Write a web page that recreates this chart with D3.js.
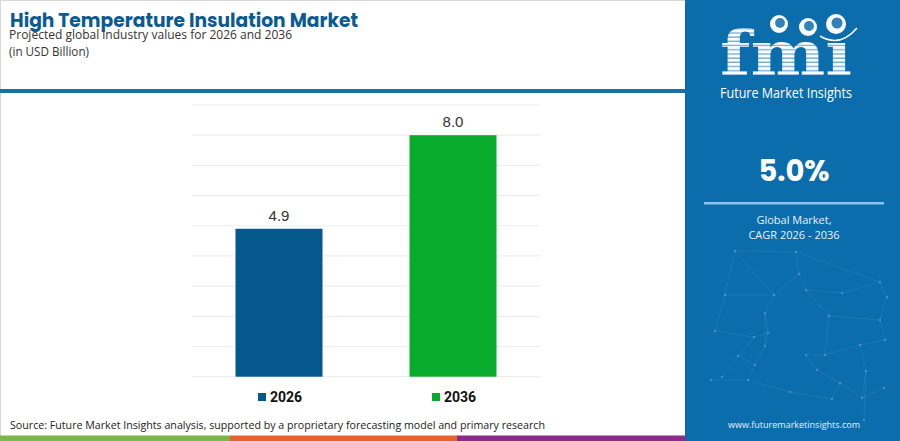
<!DOCTYPE html>
<html>
<head>
<meta charset="utf-8">
<script src="https://cdn.jsdelivr.net/npm/d3@7/dist/d3.min.js"></script>
<style>
html,body{margin:0;padding:0;background:#fff;}
svg{display:block;}
</style>
</head>
<body>
<svg id="chart" width="900" height="441"></svg>
<script>
// ---- data ----
const categories = ["2026", "2036"];
const values = [4.9, 8.0];
const valueLabels = ["4.9", "8.0"];
const yTicks = [0, 1, 2, 3, 4, 5, 6, 7, 8, 9];
const barColors = ["#04588c", "#08ab2c"];
const titleText = "High Temperature Insulation Market";
const subtitleText = "Projected global industry values for 2026 and 2036";
const unitText = "(in USD Billion)";
const sourceText = "Source: Future Market Insights analysis, supported by a proprietary forecasting model and primary research";
const cagrText = "5.0%";
const cagrLabel = ["Global Market,", "CAGR 2026 - 2036"];
const siteText = "www.futuremarketinsights.com";

const svg = d3.select("#chart");
const W = 900, H = 441;

// background + border
svg.append("rect").attr("x",0.5).attr("y",0.5).attr("width",W-1).attr("height",H-1)
  .attr("fill","#fff").attr("stroke","#d6d6d6");

// title block
svg.append("text").attr("x",10).attr("y",27)
  .attr("font-family","Poppins, 'Open Sans', sans-serif").attr("font-weight",700)
  .attr("font-size",19.5).attr("textLength",348).attr("lengthAdjust","spacingAndGlyphs")
  .attr("fill","#0b5a92").text(titleText);
svg.append("text").attr("x",9).attr("y",38.5)
  .attr("font-family","'Open Sans', sans-serif").attr("font-size",12.8)
  .attr("textLength",283).attr("lengthAdjust","spacingAndGlyphs")
  .attr("fill","#333").text(subtitleText);
svg.append("text").attr("x",9).attr("y",56)
  .attr("font-family","'Open Sans', sans-serif").attr("font-size",12.8)
  .attr("textLength",80).attr("lengthAdjust","spacingAndGlyphs")
  .attr("fill","#333").text(unitText);

// blue separator
svg.append("rect").attr("x",0).attr("y",89).attr("width",686).attr("height",4).attr("fill","#1a6faa");

// scales
const x = d3.scaleBand().domain(categories).range([192, 540]).paddingInner(0.5).paddingOuter(0.25);
const y = d3.scaleLinear().domain([0, 9]).range([376.7, 105]);

// gridlines
svg.append("g").selectAll("line").data(yTicks).join("line")
  .attr("x1",192).attr("x2",540)
  .attr("y1",d=>y(d)).attr("y2",d=>y(d))
  .attr("stroke","#eeeeee").attr("stroke-width",1.2);

// bars
svg.append("g").selectAll("rect").data(categories).join("rect")
  .attr("x",d=>x(d)).attr("width",x.bandwidth())
  .attr("y",(d,i)=>y(values[i])).attr("height",(d,i)=>y(0)-y(values[i]))
  .attr("fill",(d,i)=>barColors[i]);

// value labels
svg.append("g").selectAll("text").data(categories).join("text")
  .attr("x",d=>x(d)+x.bandwidth()/2).attr("y",(d,i)=>y(values[i])-8)
  .attr("text-anchor","middle").attr("font-family","'Liberation Sans', Arial, sans-serif")
  .attr("font-size",15).attr("fill","#333").text((d,i)=>valueLabels[i]);

// legend
const lg = svg.append("g").selectAll("g").data(categories).join("g")
  .attr("transform",d=>`translate(${x(d)+x.bandwidth()/2-21},0)`);
lg.append("rect").attr("x",0).attr("y",393).attr("width",8).attr("height",8).attr("fill",(d,i)=>barColors[i]);
lg.append("text").attr("x",12).attr("y",401.5).attr("font-family","Roboto, 'Open Sans', sans-serif")
  .attr("font-weight",700).attr("font-size",14).attr("fill","#111").text(d=>d);

// source
svg.append("text").attr("x",10).attr("y",429)
  .attr("font-family","'Open Sans', sans-serif").attr("font-size",11.4)
  .attr("textLength",535).attr("lengthAdjust","spacingAndGlyphs")
  .attr("fill","#222").text(sourceText);

// bottom colour strip
const strip = [["#7ab648",0,230],["#e8622c",230,457],["#8b2c8c",457,686]];
svg.append("g").selectAll("rect").data(strip).join("rect")
  .attr("x",d=>d[1]).attr("width",d=>d[2]-d[1]).attr("y",435.5).attr("height",5.5).attr("fill",d=>d[0]);

// ---- right panel ----
const P = svg.append("g");
P.append("rect").attr("x",685).attr("y",0).attr("width",215).attr("height",H).attr("fill","#0b6dab");

// decorative network
const nodes = [[735,251],[796,252],[799,274],[774,295],[725,295],[765,313],[806,290],[842,293],[880,282],[887,297],[829,316],[768,333],[754,337],[715,331],[738,356],[722,377],[755,365],[765,346],[825,355],[880,320],[885,340],[860,345],[806,355],[817,370],[840,383],[832,399],[748,380],[711,380],[790,392],[862,398],[884,388],[866,371],[864,420]];
const edges = [[0,1],[1,2],[2,3],[3,4],[4,0],[2,6],[6,7],[7,8],[8,9],[1,8],[6,10],[3,5],[5,11],[11,12],[12,13],[13,4],[12,14],[14,15],[14,16],[16,17],[17,11],[10,18],[18,22],[22,23],[23,24],[24,25],[16,26],[26,27],[26,28],[28,25],[10,19],[19,20],[20,21],[21,18],[21,31],[31,29],[29,30],[24,29],[31,32],[9,19],[5,17],[0,3]];
P.append("g").selectAll("line").data(edges).join("line")
  .attr("x1",d=>nodes[d[0]][0]).attr("y1",d=>nodes[d[0]][1])
  .attr("x2",d=>nodes[d[1]][0]).attr("y2",d=>nodes[d[1]][1])
  .attr("stroke","#8cc4ea").attr("stroke-opacity",0.16).attr("stroke-width",0.8);
P.append("g").selectAll("circle").data(nodes).join("circle")
  .attr("cx",d=>d[0]).attr("cy",d=>d[1]).attr("r",1.2)
  .attr("fill","#b9dcf3").attr("fill-opacity",0.3);

// logo
const defs = svg.append("defs");
const pat = defs.append("pattern").attr("id","stripes").attr("patternUnits","userSpaceOnUse")
  .attr("width",10).attr("height",4.2);
pat.append("rect").attr("width",10).attr("height",4.2).attr("fill","#ffffff");
pat.append("rect").attr("y",2.9).attr("width",10).attr("height",1.3).attr("fill","#6fa9d3");
P.append("text").attr("x",786).attr("y",75).attr("text-anchor","middle")
  .attr("font-family","'DejaVu Serif', serif").attr("font-weight",700)
  .attr("font-size",62).attr("textLength",132).attr("lengthAdjust","spacingAndGlyphs")
  .attr("fill","url(#stripes)").text("fmı");
const globes = [[779,24,9],[808,27,9],[836,24,10]];
P.append("g").selectAll("circle").data(globes).join("circle")
  .attr("cx",d=>d[0]).attr("cy",d=>d[1]).attr("r",d=>d[2]).attr("fill","#fff");
P.append("g").selectAll("circle").data(globes).join("circle")
  .attr("cx",d=>d[0]+1).attr("cy",d=>d[1]-1).attr("r",d=>d[2]*0.55).attr("fill","#0b6dab").attr("fill-opacity",0.85);
P.append("path").attr("d","M820,36 Q840,48 857,28").attr("fill","none").attr("stroke","#fff").attr("stroke-width",1.6);
P.append("text").attr("x",786).attr("y",98).attr("text-anchor","middle")
  .attr("font-family","'Open Sans', sans-serif").attr("font-size",14).attr("fill","#fff")
  .attr("textLength",132).attr("lengthAdjust","spacingAndGlyphs").text("Future Market Insights");

// CAGR
P.append("text").attr("x",794).attr("y",181).attr("text-anchor","middle")
  .attr("font-family","Poppins, 'Open Sans', sans-serif").attr("font-weight",700)
  .attr("font-size",29).attr("fill","#fff").text(cagrText);
P.append("rect").attr("x",704).attr("y",202).attr("width",180).attr("height",2.5).attr("fill","#8ec5ea");
P.append("g").selectAll("text").data(cagrLabel).join("text")
  .attr("x",794).attr("y",(d,i)=>224+i*15).attr("text-anchor","middle")
  .attr("font-family","'Open Sans', sans-serif").attr("font-size",11).attr("fill","#e6f2fb").text(d=>d);

P.append("text").attr("x",794).attr("y",428).attr("text-anchor","middle")
  .attr("font-family","'Open Sans', sans-serif").attr("font-size",9).attr("fill","#e6f2fb").text(siteText);
</script>
</body>
</html>
